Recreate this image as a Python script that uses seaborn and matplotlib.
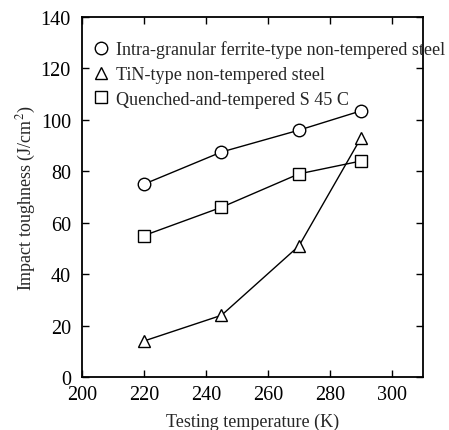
import matplotlib
matplotlib.use("Agg")
import matplotlib.pyplot as plt
import seaborn as sns
import pandas as pd
from matplotlib.lines import Line2D

temps = [220, 245, 270, 290]
ferrite = [75, 87.5, 96, 103.5]
tin = [14, 24, 51, 93]
qt = [55, 66, 79, 84]
labels = ["Intra-granular ferrite-type non-tempered steel",
          "TiN-type non-tempered steel",
          "Quenched-and-tempered S 45 C"]
markers = ["o", "^", "s"]
series = [ferrite, tin, qt]

sns.set_style("ticks")
plt.rcParams['font.family'] = ['Liberation Serif', 'DejaVu Serif']
plt.rcParams['mathtext.fontset'] = 'stix'

fig = plt.figure(figsize=(4.49, 4.31), dpi=100)
ax = fig.add_axes([82/449, 1-378/431, (423-82)/449, (378-18)/431])

for lab, vals, m in zip(labels, series, markers):
    df = pd.DataFrame({"T": temps, "v": vals})
    sns.lineplot(data=df, x="T", y="v", ax=ax, color="black", lw=1.0,
                 marker=m, markersize=9, markerfacecolor="white",
                 markeredgecolor="black", markeredgewidth=1.0, zorder=3)

ax.set_xlim(200, 310)
ax.set_ylim(0, 140)
ax.set_xticks([200, 220, 240, 260, 280, 300])
ax.set_yticks(range(0, 141, 20))
ax.tick_params(direction="in", top=True, right=True, length=5, width=1,
               labelsize=14.5, colors="black")
ax.tick_params(axis="y", pad=8)
ax.tick_params(axis="x", pad=6)
for s in ax.spines.values():
    s.set_linewidth(1.3)
    s.set_color("black")
ax.set_xlabel("Testing temperature (K)", fontsize=13, labelpad=6)
ax.set_ylabel("Impact toughness (J/cm$^2$)", fontsize=13, labelpad=2)

handles = [Line2D([], [], ls="none", marker=m, mfc="white", mec="black",
                  markersize=9, mew=1.0) for m in markers]
leg = ax.legend(handles, labels, loc="upper left", bbox_to_anchor=(0.008, 0.955),
                frameon=False, fontsize=13.1, handletextpad=0.3,
                labelspacing=0.42, handlelength=1.0, borderaxespad=0)
leg.set_zorder(5)

fig.savefig("out.png", dpi=100)
